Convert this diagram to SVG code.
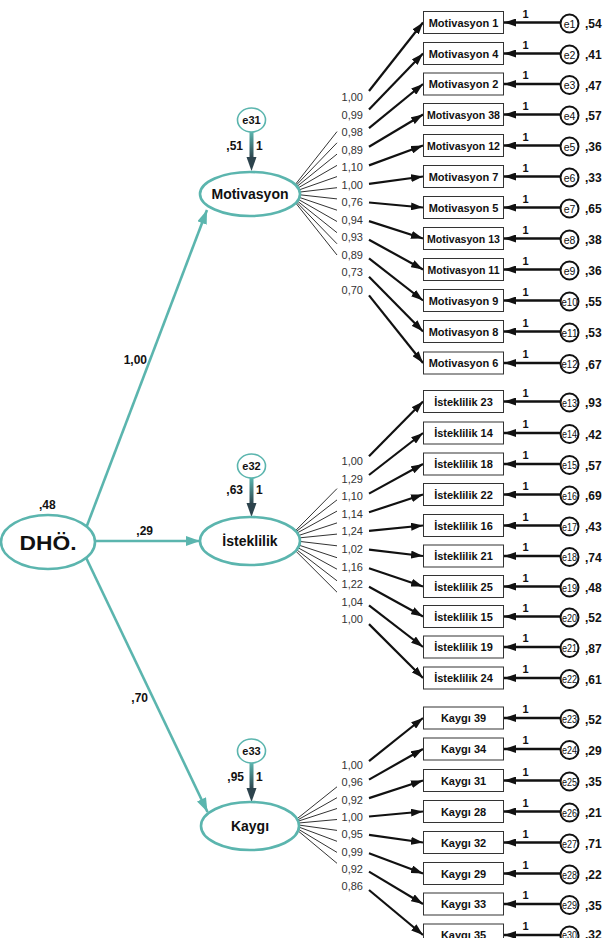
<svg xmlns="http://www.w3.org/2000/svg" width="608" height="938" viewBox="0 0 608 938">
<defs>
<style>
.box{fill:#fff;stroke:#333;stroke-width:1}
.bt{font-family:"Liberation Sans",Arial,sans-serif;font-weight:bold;font-size:11px;fill:#111;text-anchor:middle}
.err{fill:#fff;stroke:#111;stroke-width:2}
.et{font-family:"Liberation Sans",Arial,sans-serif;font-size:10.5px;fill:#111;text-anchor:middle}
.val{font-family:"Liberation Sans",Arial,sans-serif;font-weight:bold;font-size:12px;fill:#111}
.one{font-family:"Liberation Sans",Arial,sans-serif;font-weight:bold;font-size:11px;fill:#111;text-anchor:middle}
.ld{font-family:"Liberation Sans",Arial,sans-serif;font-size:11px;fill:#333;text-anchor:end}
.thin{stroke:#333;stroke-width:1;fill:none}
.thick{stroke:#111;stroke-width:2.2;fill:none;marker-end:url(#ab)}
.earr{stroke:#111;stroke-width:2.4;fill:none;marker-end:url(#ab)}
.teal{stroke:#5bb5ae;stroke-width:2.6;fill:none;marker-end:url(#at)}
.shaft{fill:url(#dg)}
.head{fill:#2d434d}
.lat{fill:#fff;stroke:#5bb5ae;stroke-width:2.6}
.lt{font-family:"Liberation Sans",Arial,sans-serif;font-weight:bold;font-size:14px;fill:#111;text-anchor:middle}
.ec{fill:#fff;stroke:#5bb5ae;stroke-width:1.6}
.ect{font-family:"Liberation Sans",Arial,sans-serif;font-weight:bold;font-size:11px;fill:#111;text-anchor:middle}
.pv{font-family:"Liberation Sans",Arial,sans-serif;font-weight:bold;font-size:12px;fill:#111}
</style>
<marker id="ab" markerUnits="userSpaceOnUse" markerWidth="12" markerHeight="8" viewBox="0 0 12 8" refX="12" refY="4" orient="auto"><path d="M0,0 L12,4 L0,8 z" fill="#111"/></marker>
<marker id="at" markerUnits="userSpaceOnUse" markerWidth="14" markerHeight="10" viewBox="0 0 14 10" refX="14" refY="5" orient="auto"><path d="M0,0 L14,5 L0,10 z" fill="#5bb5ae"/></marker>
<linearGradient id="dg" x1="0" y1="0" x2="0" y2="1"><stop offset="0" stop-color="#5bb5ae"/><stop offset="1" stop-color="#2d434d"/></linearGradient>
</defs>

<g id="connectors">
<!-- structural paths -->
<line class="teal" x1="80" y1="544" x2="207" y2="210"/>
<line class="teal" x1="80" y1="541" x2="200" y2="541"/>
<line class="teal" x1="80" y1="545" x2="207.5" y2="812"/>
<g id="e31-arrow"><rect class="shaft" x="249.5" y="132" width="4" height="26"/><path class="head" d="M246.5,157 L256.5,157 L251.5,171 z"/></g>
<g id="e32-arrow"><rect class="shaft" x="249.5" y="478" width="4" height="26"/><path class="head" d="M246.5,503 L256.5,503 L251.5,517 z"/></g>
<g id="e33-arrow"><rect class="shaft" x="249.5" y="763" width="4" height="26"/><path class="head" d="M246.5,788 L256.5,788 L251.5,802 z"/></g>
<!-- Motivasyon loadings -->
<line class="thin" x1="280" y1="203.9" x2="337" y2="131.6"/>
<line class="thin" x1="280" y1="202.1" x2="337" y2="142.8"/>
<line class="thin" x1="280" y1="200.2" x2="337" y2="154.1"/>
<line class="thin" x1="280" y1="198.4" x2="337" y2="165.4"/>
<line class="thin" x1="280" y1="196.6" x2="337" y2="176.6"/>
<line class="thin" x1="280" y1="194.4" x2="337" y2="187.7"/>
<line class="thin" x1="280" y1="192.6" x2="337" y2="198.9"/>
<line class="thin" x1="280" y1="190.8" x2="337" y2="210.2"/>
<line class="thin" x1="280" y1="188.9" x2="337" y2="221.5"/>
<line class="thin" x1="280" y1="187.1" x2="337" y2="232.7"/>
<line class="thin" x1="280" y1="185" x2="337" y2="243.8"/>
<line class="thin" x1="280" y1="183.2" x2="337" y2="255"/>
<line class="thick" x1="369" y1="91" x2="423" y2="22.5"/>
<line class="thick" x1="369" y1="109.6" x2="423" y2="53.5"/>
<line class="thick" x1="369" y1="128.2" x2="423" y2="84"/>
<line class="thick" x1="369" y1="146.8" x2="423" y2="114.5"/>
<line class="thick" x1="369" y1="165.4" x2="423" y2="145.5"/>
<line class="thick" x1="369" y1="183.9" x2="423" y2="176.5"/>
<line class="thick" x1="369" y1="202.5" x2="423" y2="207.5"/>
<line class="thick" x1="369" y1="221.1" x2="423" y2="238.5"/>
<line class="thick" x1="369" y1="239.7" x2="423" y2="269.5"/>
<line class="thick" x1="369" y1="258.3" x2="423" y2="300.5"/>
<line class="thick" x1="369" y1="276.8" x2="423" y2="331.5"/>
<line class="thick" x1="369" y1="295.4" x2="423" y2="363"/>
<!-- Isteklilik loadings -->
<line class="thin" x1="280" y1="546.4" x2="337" y2="488.6"/>
<line class="thin" x1="280" y1="544.2" x2="337" y2="499.9"/>
<line class="thin" x1="280" y1="542.4" x2="337" y2="511.1"/>
<line class="thin" x1="280" y1="541.6" x2="337" y2="522.9"/>
<line class="thin" x1="280" y1="539.8" x2="337" y2="534.1"/>
<line class="thin" x1="280" y1="539.1" x2="337" y2="545.8"/>
<line class="thin" x1="280" y1="538.9" x2="337" y2="557.7"/>
<line class="thin" x1="280" y1="537.8" x2="337" y2="569.2"/>
<line class="thin" x1="280" y1="536.9" x2="337" y2="580.8"/>
<line class="thin" x1="280" y1="535.3" x2="337" y2="592.2"/>
<line class="thick" x1="369" y1="456.2" x2="423" y2="401.5"/>
<line class="thick" x1="369" y1="475" x2="423" y2="433"/>
<line class="thick" x1="369" y1="493.6" x2="423" y2="464"/>
<line class="thick" x1="369" y1="512.3" x2="423" y2="494.5"/>
<line class="thick" x1="369" y1="530.9" x2="423" y2="525.5"/>
<line class="thick" x1="369" y1="549.6" x2="423" y2="556"/>
<line class="thick" x1="369" y1="568.2" x2="423" y2="586.5"/>
<line class="thick" x1="369" y1="586.8" x2="423" y2="616.5"/>
<line class="thick" x1="369" y1="605.4" x2="423" y2="647"/>
<line class="thick" x1="369" y1="624.1" x2="423" y2="678"/>
<!-- Kaygi loadings -->
<line class="thin" x1="280" y1="832.4" x2="337" y2="786.8"/>
<line class="thin" x1="280" y1="830" x2="337" y2="797.7"/>
<line class="thin" x1="280" y1="827.1" x2="337" y2="808.5"/>
<line class="thin" x1="280" y1="824.7" x2="337" y2="819.5"/>
<line class="thin" x1="280" y1="822.4" x2="337" y2="830.4"/>
<line class="thin" x1="280" y1="820" x2="337" y2="841.3"/>
<line class="thin" x1="280" y1="818.2" x2="337" y2="852.4"/>
<line class="thin" x1="280" y1="815.8" x2="337" y2="863.3"/>
<line class="thick" x1="369" y1="761.2" x2="423" y2="718"/>
<line class="thick" x1="369" y1="779.6" x2="423" y2="749"/>
<line class="thick" x1="369" y1="798.1" x2="423" y2="780.5"/>
<line class="thick" x1="369" y1="816.5" x2="423" y2="811.5"/>
<line class="thick" x1="369" y1="834.9" x2="423" y2="842.5"/>
<line class="thick" x1="369" y1="853.3" x2="423" y2="873.5"/>
<line class="thick" x1="369" y1="871.6" x2="423" y2="904"/>
<line class="thick" x1="369" y1="890" x2="423" y2="935"/>
<!-- error arrows -->
<line class="earr" x1="560" y1="22.5" x2="504" y2="22.5"/>
<line class="earr" x1="560" y1="53.5" x2="504" y2="53.5"/>
<line class="earr" x1="560" y1="84" x2="504" y2="84"/>
<line class="earr" x1="560" y1="114.5" x2="504" y2="114.5"/>
<line class="earr" x1="560" y1="145.5" x2="504" y2="145.5"/>
<line class="earr" x1="560" y1="176.5" x2="504" y2="176.5"/>
<line class="earr" x1="560" y1="207.5" x2="504" y2="207.5"/>
<line class="earr" x1="560" y1="238.5" x2="504" y2="238.5"/>
<line class="earr" x1="560" y1="269.5" x2="504" y2="269.5"/>
<line class="earr" x1="560" y1="300.5" x2="504" y2="300.5"/>
<line class="earr" x1="560" y1="331.5" x2="504" y2="331.5"/>
<line class="earr" x1="560" y1="363" x2="504" y2="363"/>
<line class="earr" x1="560" y1="401.5" x2="504" y2="401.5"/>
<line class="earr" x1="560" y1="433" x2="504" y2="433"/>
<line class="earr" x1="560" y1="464" x2="504" y2="464"/>
<line class="earr" x1="560" y1="494.5" x2="504" y2="494.5"/>
<line class="earr" x1="560" y1="525.5" x2="504" y2="525.5"/>
<line class="earr" x1="560" y1="556" x2="504" y2="556"/>
<line class="earr" x1="560" y1="586.5" x2="504" y2="586.5"/>
<line class="earr" x1="560" y1="616.5" x2="504" y2="616.5"/>
<line class="earr" x1="560" y1="647" x2="504" y2="647"/>
<line class="earr" x1="560" y1="678" x2="504" y2="678"/>
<line class="earr" x1="560" y1="718" x2="504" y2="718"/>
<line class="earr" x1="560" y1="749" x2="504" y2="749"/>
<line class="earr" x1="560" y1="780.5" x2="504" y2="780.5"/>
<line class="earr" x1="560" y1="811.5" x2="504" y2="811.5"/>
<line class="earr" x1="560" y1="842.5" x2="504" y2="842.5"/>
<line class="earr" x1="560" y1="873.5" x2="504" y2="873.5"/>
<line class="earr" x1="560" y1="904" x2="504" y2="904"/>
<line class="earr" x1="560" y1="935" x2="504" y2="935"/>
<!-- connector labels -->
<text class="pv" x="147" y="364" text-anchor="end">1,00</text>
<text class="pv" x="153" y="535" text-anchor="end">,29</text>
<text class="pv" x="148" y="702" text-anchor="end">,70</text>
<g class="ld">
<text x="363" y="101">1,00</text><text x="363" y="118.5">0,99</text><text x="363" y="136">0,98</text><text x="363" y="153.5">0,89</text><text x="363" y="171">1,10</text><text x="363" y="188.5">1,00</text><text x="363" y="206">0,76</text><text x="363" y="223.5">0,94</text><text x="363" y="241">0,93</text><text x="363" y="258.5">0,89</text><text x="363" y="276">0,73</text><text x="363" y="293.5">0,70</text>
<text x="363" y="465">1,00</text><text x="363" y="482.6">1,29</text><text x="363" y="500.2">1,10</text><text x="363" y="517.8">1,14</text><text x="363" y="535.4">1,24</text><text x="363" y="553">1,02</text><text x="363" y="570.6">1,16</text><text x="363" y="588.2">1,22</text><text x="363" y="605.8">1,04</text><text x="363" y="623.4">1,00</text>
<text x="363" y="769">1,00</text><text x="363" y="786.3">0,96</text><text x="363" y="803.6">0,92</text><text x="363" y="820.9">1,00</text><text x="363" y="838.2">0,95</text><text x="363" y="855.5">0,99</text><text x="363" y="872.8">0,92</text><text x="363" y="890.1">0,86</text>
</g>
<g class="one">
<text x="525.5" y="17.5">1</text><text x="525.5" y="48.5">1</text><text x="525.5" y="79">1</text><text x="525.5" y="109.5">1</text><text x="525.5" y="140.5">1</text><text x="525.5" y="171.5">1</text><text x="525.5" y="202.5">1</text><text x="525.5" y="233.5">1</text><text x="525.5" y="264.5">1</text><text x="525.5" y="295.5">1</text><text x="525.5" y="326.5">1</text><text x="525.5" y="358">1</text>
<text x="525.5" y="396.5">1</text><text x="525.5" y="428">1</text><text x="525.5" y="459">1</text><text x="525.5" y="489.5">1</text><text x="525.5" y="520.5">1</text><text x="525.5" y="551">1</text><text x="525.5" y="581.5">1</text><text x="525.5" y="611.5">1</text><text x="525.5" y="642">1</text><text x="525.5" y="673">1</text>
<text x="525.5" y="713">1</text><text x="525.5" y="744">1</text><text x="525.5" y="775.5">1</text><text x="525.5" y="806.5">1</text><text x="525.5" y="837.5">1</text><text x="525.5" y="868.5">1</text><text x="525.5" y="899">1</text><text x="525.5" y="930">1</text>
</g>
<text class="pv" x="243" y="150" text-anchor="end">,51</text><text class="pv" x="256" y="150">1</text>
<text class="pv" x="243" y="494" text-anchor="end">,63</text><text class="pv" x="256" y="494">1</text>
<text class="pv" x="244" y="781" text-anchor="end">,95</text><text class="pv" x="256" y="781">1</text>
</g>

<g id="DHO"><ellipse class="lat" cx="48" cy="542" rx="47" ry="27"/><text class="lt" x="48" y="550" style="font-size:21px" textLength="57" lengthAdjust="spacingAndGlyphs">DHÖ.</text><text class="pv" x="39" y="509">,48</text></g>
<g id="Motivasyon"><ellipse class="lat" cx="250" cy="194" rx="50" ry="22"/><text class="lt" x="250" y="199">Motivasyon</text></g>
<g id="Isteklilik"><ellipse class="lat" cx="250" cy="541" rx="50" ry="24"/><text class="lt" x="250" y="546">İsteklilik</text></g>
<g id="Kaygi"><ellipse class="lat" cx="250" cy="826" rx="49" ry="24"/><text class="lt" x="250" y="831">Kaygı</text></g>
<g id="e31"><ellipse class="ec" cx="251.5" cy="120" rx="14" ry="12"/><text class="ect" x="251.5" y="124">e31</text></g>
<g id="e32"><ellipse class="ec" cx="251.5" cy="466" rx="14" ry="12"/><text class="ect" x="251.5" y="470">e32</text></g>
<g id="e33"><ellipse class="ec" cx="251.5" cy="751" rx="14" ry="12"/><text class="ect" x="251.5" y="755">e33</text></g>

<g id="indicators">
<g id="m1"><rect class="box" x="423.5" y="11.5" width="80" height="22"/><text class="bt" x="463.5" y="26.5">Motivasyon 1</text></g>
<g id="m4"><rect class="box" x="423.5" y="42.5" width="80" height="22"/><text class="bt" x="463.5" y="57.5">Motivasyon 4</text></g>
<g id="m2"><rect class="box" x="423.5" y="73" width="80" height="22"/><text class="bt" x="463.5" y="88">Motivasyon 2</text></g>
<g id="m38"><rect class="box" x="423.5" y="103.5" width="80" height="22"/><text class="bt" x="463.5" y="118.5" textLength="73" lengthAdjust="spacingAndGlyphs">Motivasyon 38</text></g>
<g id="m12"><rect class="box" x="423.5" y="134.5" width="80" height="22"/><text class="bt" x="463.5" y="149.5" textLength="73" lengthAdjust="spacingAndGlyphs">Motivasyon 12</text></g>
<g id="m7"><rect class="box" x="423.5" y="165.5" width="80" height="22"/><text class="bt" x="463.5" y="180.5">Motivasyon 7</text></g>
<g id="m5"><rect class="box" x="423.5" y="196.5" width="80" height="22"/><text class="bt" x="463.5" y="211.5">Motivasyon 5</text></g>
<g id="m13"><rect class="box" x="423.5" y="227.5" width="80" height="22"/><text class="bt" x="463.5" y="242.5" textLength="73" lengthAdjust="spacingAndGlyphs">Motivasyon 13</text></g>
<g id="m11"><rect class="box" x="423.5" y="258.5" width="80" height="22"/><text class="bt" x="463.5" y="273.5" textLength="72" lengthAdjust="spacingAndGlyphs">Motivasyon 11</text></g>
<g id="m9"><rect class="box" x="423.5" y="289.5" width="80" height="22"/><text class="bt" x="463.5" y="304.5">Motivasyon 9</text></g>
<g id="m8"><rect class="box" x="423.5" y="320.5" width="80" height="22"/><text class="bt" x="463.5" y="335.5">Motivasyon 8</text></g>
<g id="m6"><rect class="box" x="423.5" y="352" width="80" height="22"/><text class="bt" x="463.5" y="367">Motivasyon 6</text></g>
<g id="i23"><rect class="box" x="423.5" y="390.5" width="80" height="22"/><text class="bt" x="463.5" y="405.5">İsteklilik 23</text></g>
<g id="i14"><rect class="box" x="423.5" y="422" width="80" height="22"/><text class="bt" x="463.5" y="437">İsteklilik 14</text></g>
<g id="i18"><rect class="box" x="423.5" y="453" width="80" height="22"/><text class="bt" x="463.5" y="468">İsteklilik 18</text></g>
<g id="i22"><rect class="box" x="423.5" y="483.5" width="80" height="22"/><text class="bt" x="463.5" y="498.5">İsteklilik 22</text></g>
<g id="i16"><rect class="box" x="423.5" y="514.5" width="80" height="22"/><text class="bt" x="463.5" y="529.5">İsteklilik 16</text></g>
<g id="i21"><rect class="box" x="423.5" y="545" width="80" height="22"/><text class="bt" x="463.5" y="560">İsteklilik 21</text></g>
<g id="i25"><rect class="box" x="423.5" y="575.5" width="80" height="22"/><text class="bt" x="463.5" y="590.5">İsteklilik 25</text></g>
<g id="i15"><rect class="box" x="423.5" y="605.5" width="80" height="22"/><text class="bt" x="463.5" y="620.5">İsteklilik 15</text></g>
<g id="i19"><rect class="box" x="423.5" y="636" width="80" height="22"/><text class="bt" x="463.5" y="651">İsteklilik 19</text></g>
<g id="i24"><rect class="box" x="423.5" y="667" width="80" height="22"/><text class="bt" x="463.5" y="682">İsteklilik 24</text></g>
<g id="k39"><rect class="box" x="423.5" y="707" width="80" height="22"/><text class="bt" x="463.5" y="722">Kaygı 39</text></g>
<g id="k34"><rect class="box" x="423.5" y="738" width="80" height="22"/><text class="bt" x="463.5" y="753">Kaygı 34</text></g>
<g id="k31"><rect class="box" x="423.5" y="769.5" width="80" height="22"/><text class="bt" x="463.5" y="784.5">Kaygı 31</text></g>
<g id="k28"><rect class="box" x="423.5" y="800.5" width="80" height="22"/><text class="bt" x="463.5" y="815.5">Kaygı 28</text></g>
<g id="k32"><rect class="box" x="423.5" y="831.5" width="80" height="22"/><text class="bt" x="463.5" y="846.5">Kaygı 32</text></g>
<g id="k29"><rect class="box" x="423.5" y="862.5" width="80" height="22"/><text class="bt" x="463.5" y="877.5">Kaygı 29</text></g>
<g id="k33"><rect class="box" x="423.5" y="893" width="80" height="22"/><text class="bt" x="463.5" y="908">Kaygı 33</text></g>
<g id="k35"><rect class="box" x="423.5" y="924" width="80" height="22"/><text class="bt" x="463.5" y="938.5">Kaygı 35</text></g>
</g>

<g id="errors">
<g id="e1"><circle class="err" cx="569.5" cy="23.5" r="9"/><text class="et" x="569.5" y="27.5">e1</text><text class="val" x="585" y="28">,54</text></g>
<g id="e2"><circle class="err" cx="569.5" cy="54.5" r="9"/><text class="et" x="569.5" y="58.5">e2</text><text class="val" x="585" y="59">,41</text></g>
<g id="e3"><circle class="err" cx="569.5" cy="85" r="9"/><text class="et" x="569.5" y="89">e3</text><text class="val" x="585" y="89.5">,47</text></g>
<g id="e4"><circle class="err" cx="569.5" cy="115.5" r="9"/><text class="et" x="569.5" y="119.5">e4</text><text class="val" x="585" y="120">,57</text></g>
<g id="e5"><circle class="err" cx="569.5" cy="146.5" r="9"/><text class="et" x="569.5" y="150.5">e5</text><text class="val" x="585" y="151">,36</text></g>
<g id="e6"><circle class="err" cx="569.5" cy="177.5" r="9"/><text class="et" x="569.5" y="181.5">e6</text><text class="val" x="585" y="182">,33</text></g>
<g id="e7"><circle class="err" cx="569.5" cy="208.5" r="9"/><text class="et" x="569.5" y="212.5">e7</text><text class="val" x="585" y="213">,65</text></g>
<g id="e8"><circle class="err" cx="569.5" cy="239.5" r="9"/><text class="et" x="569.5" y="243.5">e8</text><text class="val" x="585" y="244">,38</text></g>
<g id="e9"><circle class="err" cx="569.5" cy="270.5" r="9"/><text class="et" x="569.5" y="274.5">e9</text><text class="val" x="585" y="275">,36</text></g>
<g id="e10"><circle class="err" cx="569.5" cy="301.5" r="9"/><text class="et" x="569.5" y="305.5" textLength="16" lengthAdjust="spacingAndGlyphs">e10</text><text class="val" x="585" y="306">,55</text></g>
<g id="e11"><circle class="err" cx="569.5" cy="332.5" r="9"/><text class="et" x="569.5" y="336.5" textLength="16" lengthAdjust="spacingAndGlyphs">e11</text><text class="val" x="585" y="337">,53</text></g>
<g id="e12"><circle class="err" cx="569.5" cy="364" r="9"/><text class="et" x="569.5" y="368" textLength="16" lengthAdjust="spacingAndGlyphs">e12</text><text class="val" x="585" y="368.5">,67</text></g>
<g id="e13"><circle class="err" cx="569.5" cy="402.5" r="9"/><text class="et" x="569.5" y="406.5" textLength="15" lengthAdjust="spacingAndGlyphs">e13</text><text class="val" x="585" y="407">,93</text></g>
<g id="e14"><circle class="err" cx="569.5" cy="434" r="9"/><text class="et" x="569.5" y="438" textLength="15" lengthAdjust="spacingAndGlyphs">e14</text><text class="val" x="585" y="438.5">,42</text></g>
<g id="e15"><circle class="err" cx="569.5" cy="465" r="9"/><text class="et" x="569.5" y="469" textLength="15" lengthAdjust="spacingAndGlyphs">e15</text><text class="val" x="585" y="469.5">,57</text></g>
<g id="e16"><circle class="err" cx="569.5" cy="495.5" r="9"/><text class="et" x="569.5" y="499.5" textLength="15" lengthAdjust="spacingAndGlyphs">e16</text><text class="val" x="585" y="500">,69</text></g>
<g id="e17"><circle class="err" cx="569.5" cy="526.5" r="9"/><text class="et" x="569.5" y="530.5" textLength="15" lengthAdjust="spacingAndGlyphs">e17</text><text class="val" x="585" y="531">,43</text></g>
<g id="e18"><circle class="err" cx="569.5" cy="557" r="9"/><text class="et" x="569.5" y="561" textLength="15" lengthAdjust="spacingAndGlyphs">e18</text><text class="val" x="585" y="561.5">,74</text></g>
<g id="e19"><circle class="err" cx="569.5" cy="587.5" r="9"/><text class="et" x="569.5" y="591.5" textLength="15" lengthAdjust="spacingAndGlyphs">e19</text><text class="val" x="585" y="592">,48</text></g>
<g id="e20"><circle class="err" cx="569.5" cy="617.5" r="9"/><text class="et" x="569.5" y="621.5" textLength="15" lengthAdjust="spacingAndGlyphs">e20</text><text class="val" x="585" y="622">,52</text></g>
<g id="e21"><circle class="err" cx="569.5" cy="648" r="9"/><text class="et" x="569.5" y="652" textLength="15" lengthAdjust="spacingAndGlyphs">e21</text><text class="val" x="585" y="652.5">,87</text></g>
<g id="e22"><circle class="err" cx="569.5" cy="679" r="9"/><text class="et" x="569.5" y="683" textLength="15" lengthAdjust="spacingAndGlyphs">e22</text><text class="val" x="585" y="683.5">,61</text></g>
<g id="e23"><circle class="err" cx="569.5" cy="719" r="9"/><text class="et" x="569.5" y="723" textLength="15" lengthAdjust="spacingAndGlyphs">e23</text><text class="val" x="585" y="723.5">,52</text></g>
<g id="e24"><circle class="err" cx="569.5" cy="750" r="9"/><text class="et" x="569.5" y="754" textLength="15" lengthAdjust="spacingAndGlyphs">e24</text><text class="val" x="585" y="754.5">,29</text></g>
<g id="e25"><circle class="err" cx="569.5" cy="781.5" r="9"/><text class="et" x="569.5" y="785.5" textLength="15" lengthAdjust="spacingAndGlyphs">e25</text><text class="val" x="585" y="786">,35</text></g>
<g id="e26"><circle class="err" cx="569.5" cy="812.5" r="9"/><text class="et" x="569.5" y="816.5" textLength="15" lengthAdjust="spacingAndGlyphs">e26</text><text class="val" x="585" y="817">,21</text></g>
<g id="e27"><circle class="err" cx="569.5" cy="843.5" r="9"/><text class="et" x="569.5" y="847.5" textLength="15" lengthAdjust="spacingAndGlyphs">e27</text><text class="val" x="585" y="848">,71</text></g>
<g id="e28"><circle class="err" cx="569.5" cy="874.5" r="9"/><text class="et" x="569.5" y="878.5" textLength="15" lengthAdjust="spacingAndGlyphs">e28</text><text class="val" x="585" y="879">,22</text></g>
<g id="e29"><circle class="err" cx="569.5" cy="905" r="9"/><text class="et" x="569.5" y="909" textLength="15" lengthAdjust="spacingAndGlyphs">e29</text><text class="val" x="585" y="909.5">,35</text></g>
<g id="e30"><circle class="err" cx="569.5" cy="935.5" r="9"/><text class="et" x="569.5" y="938.5" textLength="15" lengthAdjust="spacingAndGlyphs">e30</text><text class="val" x="585" y="938.5">,32</text></g>
</g>
</svg>
